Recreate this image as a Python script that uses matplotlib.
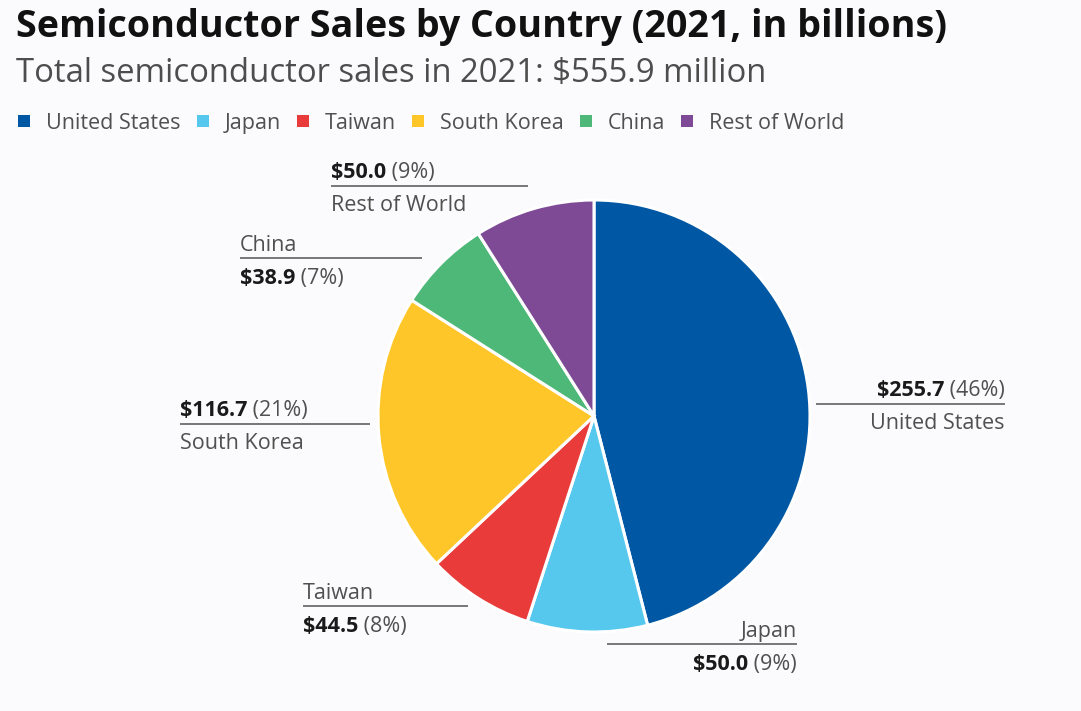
import matplotlib.pyplot as plt
from matplotlib.patches import Rectangle

plt.rcParams['font.family'] = ['Open Sans', 'DejaVu Sans']

countries = ['United States', 'Japan', 'Taiwan', 'South Korea', 'China', 'Rest of World']
sales = [255.7, 50.0, 44.5, 116.7, 38.9, 50.0]
shares = [46, 9, 8, 21, 7, 9]
colors = ['#0057a3', '#56c8ee', '#e83b3a', '#ffc629', '#4db877', '#7e4a96']

W, H = 1081, 711
BG = '#fbfbfd'

fig = plt.figure(figsize=(W / 100, H / 100), dpi=100, facecolor=BG)
ax = fig.add_axes([0, 0, 1, 1])
ax.set_xlim(0, W)
ax.set_ylim(H, 0)
ax.set_aspect('equal')
ax.axis('off')

# pie drawn in pixel coordinates; y axis is flipped so reverse direction
cx, cy, r = 594, 416, 216
ax.pie(sales, colors=colors, center=(cx, cy), radius=r, startangle=-90,
       counterclock=True, wedgeprops=dict(edgecolor='white', linewidth=2.2))
ax.set_xlim(0, W)
ax.set_ylim(H, 0)


def fit_text(x, y, s, width, size, **kw):
    # scale font size so the text spans the given pixel width
    t = ax.text(x, y, s, fontsize=size, **kw)
    fig.canvas.draw()
    w = t.get_window_extent().width
    t.set_fontsize(size * width / w)
    return t


fit_text(16, 27, 'Semiconductor Sales by Country (2021, in billions)', 929, 24,
         fontweight='bold', color='#111111', va='center', ha='left')
fit_text(16, 74, 'Total semiconductor sales in 2021: $555.9 million', 752, 20,
         color='#4d4d4d', va='center', ha='left')

FS = 15.5
TXT = '#505050'
DY = 2.5  # text sits slightly low relative to its box centre

# legend row
lx = 18
for name, c in zip(countries, colors):
    ax.add_patch(Rectangle((lx, 115), 12, 12, color=c, lw=0))
    t = ax.text(lx + 28, 121 + DY, name, fontsize=FS, color=TXT, va='center', ha='left')
    fig.canvas.draw()
    bx = ax.transData.inverted().transform((t.get_window_extent().x1, 0))[0]
    lx = bx + 16

LINE = '#777777'


def label(i, x0, x1, ly, align, value_on_top):
    val = f'${sales[i]:.1f}'
    pct = f' ({shares[i]}%)'
    ax.plot([x0, x1], [ly, ly], color=LINE, lw=1.4, solid_capstyle='butt')
    yv, yn = (ly - 16, ly + 17) if value_on_top else (ly + 18, ly - 15)
    yv += DY
    yn += DY
    xa = x0 if align == 'left' else x1
    ax.text(xa, yn, countries[i], fontsize=FS, color=TXT, va='center', ha=align)
    if align == 'left':
        t = ax.text(xa, yv, val, fontsize=FS, fontweight='bold', color='#1a1a1a',
                    va='center', ha='left')
        fig.canvas.draw()
        bx = ax.transData.inverted().transform((t.get_window_extent().x1, 0))[0]
        ax.text(bx, yv, pct, fontsize=FS, color=TXT, va='center', ha='left')
    else:
        t = ax.text(xa, yv, pct, fontsize=FS, color=TXT, va='center', ha='right')
        fig.canvas.draw()
        bx = ax.transData.inverted().transform((t.get_window_extent().x0, 0))[0]
        ax.text(bx, yv, val, fontsize=FS, fontweight='bold', color='#1a1a1a',
                va='center', ha='right')


label(0, 816, 1005, 404, 'right', True)
label(1, 607, 797, 644, 'right', False)
label(2, 303, 468, 606, 'left', False)
label(3, 180, 370, 424, 'left', True)
label(4, 240, 422, 258, 'left', False)
label(5, 331, 528, 186, 'left', True)

fig.savefig('out.png', dpi=100, facecolor=BG)
